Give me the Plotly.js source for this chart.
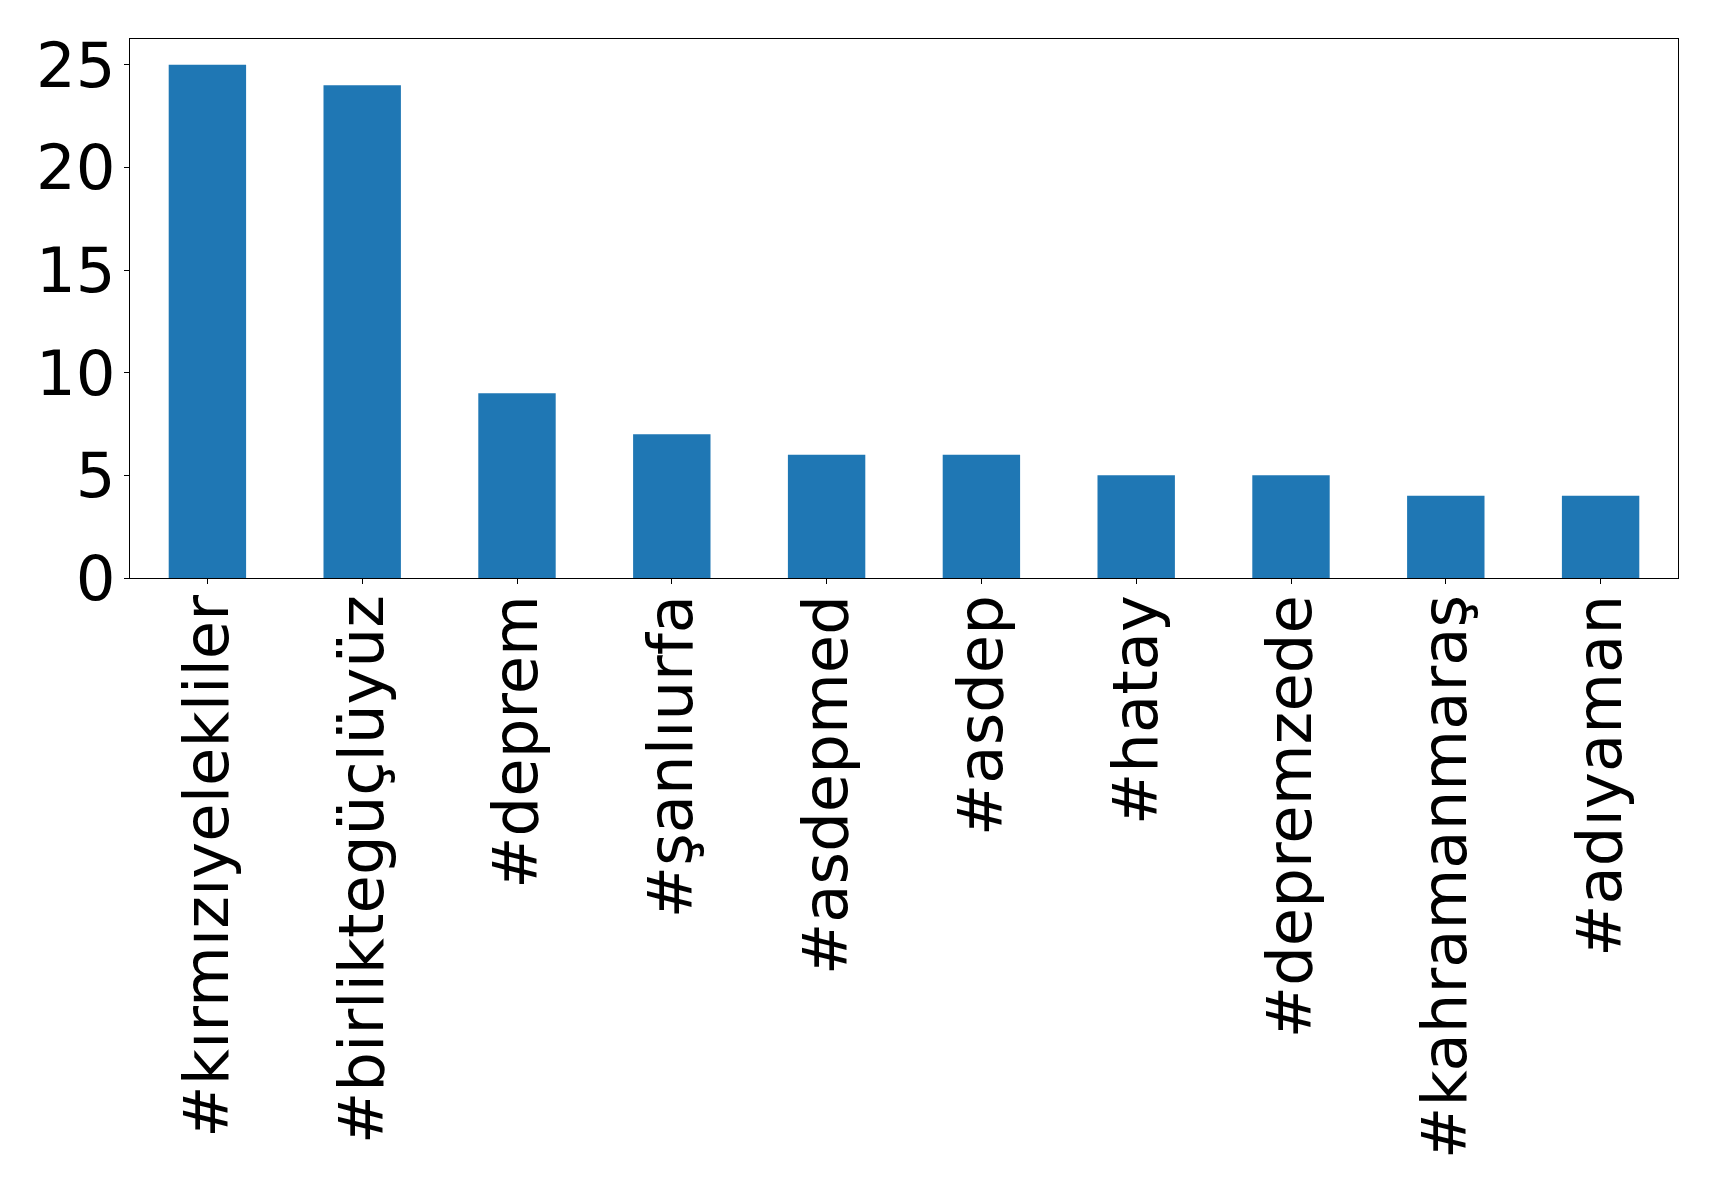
<!DOCTYPE html>
<html>
<head>
<meta charset="utf-8">
<script src="https://cdn.plot.ly/plotly-3.0.1.min.js"></script>
<style>html,body{margin:0;padding:0;background:#fff;}</style>
</head>
<body>
<div id="chart" style="width:1719px;height:1191px;"></div>
<script>
const hashtags = ["#kırmızıyelekliler", "#birliktegüçlüyüz", "#deprem", "#şanlıurfa", "#asdepmed", "#asdep", "#hatay", "#depremzede", "#kahramanmaraş", "#adıyaman"];
const counts = [25, 24, 9, 7, 6, 6, 5, 5, 4, 4];
const yTicks = [0, 5, 10, 15, 20, 25];

Plotly.newPlot("chart", [{
  type: "bar",
  x: hashtags.map((_, i) => i),
  y: counts,
  width: 0.5,
  marker: {color: "#1f77b4", line: {width: 0}},
  hoverinfo: "x+y"
}], {
  width: 1719, height: 1191,
  margin: {l: 129.5, r: 41, t: 39, b: 613, pad: 0},
  paper_bgcolor: "#fff", plot_bgcolor: "#fff",
  font: {family: "DejaVu Sans", size: 62.5, color: "#000"},
  showlegend: false,
  xaxis: {
    range: [-0.5, 9.5],
    tickmode: "array",
    tickvals: hashtags.map((_, i) => i),
    ticktext: hashtags,
    tickangle: -90,
    ticks: "outside", ticklen: 5, tickwidth: 1, tickcolor: "#000",
    ticklabelstandoff: -14,
    showline: true, linecolor: "#000", linewidth: 1, mirror: true,
    showgrid: false, zeroline: false,
    tickfont: {family: "DejaVu Sans", size: 62.5, color: "#000"}
  },
  yaxis: {
    range: [0, 26.25],
    tickmode: "array",
    tickvals: yTicks,
    ticktext: yTicks.map(String),
    ticks: "outside", ticklen: 5, tickwidth: 1, tickcolor: "#000",
    ticklabelstandoff: -4,
    showline: true, linecolor: "#000", linewidth: 1, mirror: true,
    showgrid: false, zeroline: false,
    tickfont: {family: "DejaVu Sans", size: 62.5, color: "#000"}
  }
}, {displayModeBar: false, staticPlot: true});
</script>
</body>
</html>
